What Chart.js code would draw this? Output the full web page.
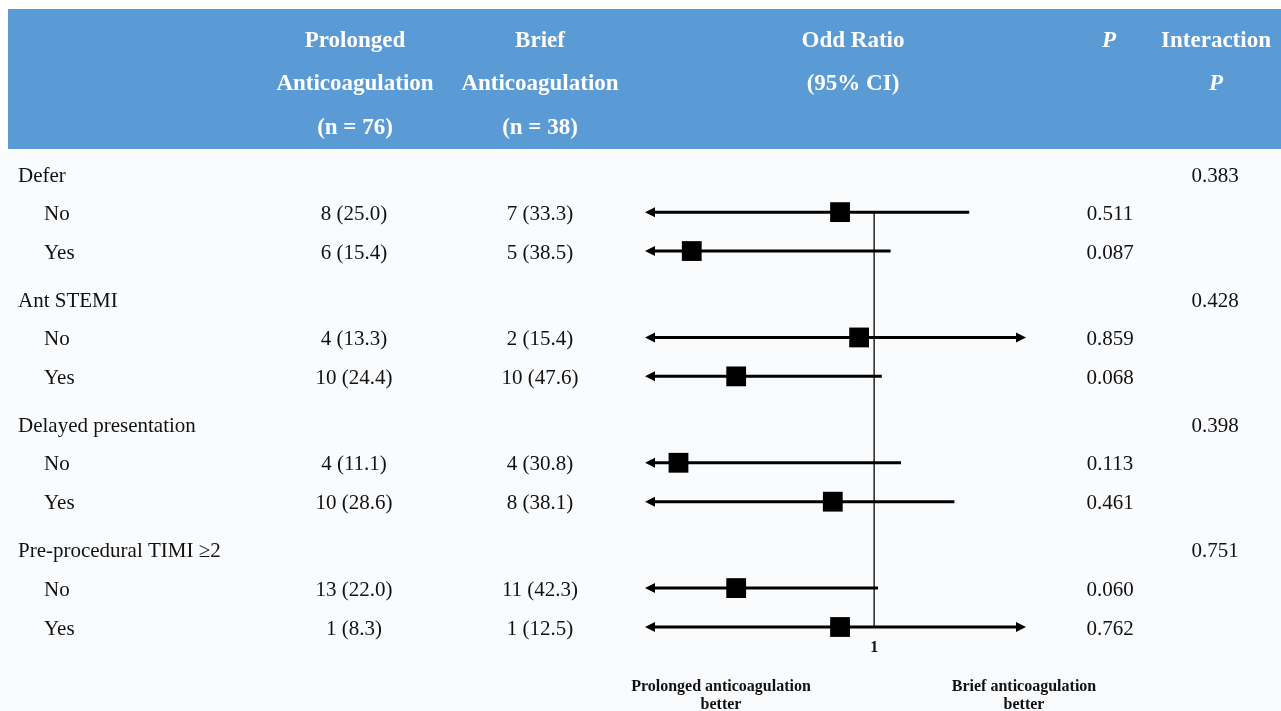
<!DOCTYPE html>
<html><head><meta charset="utf-8">
<script src="https://cdn.jsdelivr.net/npm/chart.js@4.4.1/dist/chart.umd.min.js"></script>
<style>html,body{margin:0;padding:0;background:#fff;}#wrap{width:1281px;height:711px;position:relative;}canvas{display:block;}</style>
</head><body><div id="wrap"><canvas id="c" width="1281" height="711"></canvas></div>
<script>
// ---- data ----
const groups = ['Defer', 'Ant STEMI', 'Delayed presentation', 'Pre-procedural TIMI \u22652'];
const subgroups = ['No', 'Yes'];
const nProlonged = 76;
const nBrief = 38;
const prolongedN = [8, 6, 4, 10, 4, 10, 13, 1];
const prolongedPct = [25.0, 15.4, 13.3, 24.4, 11.1, 28.6, 22.0, 8.3];
const briefN = [7, 5, 2, 10, 4, 8, 11, 1];
const briefPct = [33.3, 38.5, 15.4, 47.6, 30.8, 38.1, 42.3, 12.5];
const oddsRatio = [0.71, 0.16, 0.86, 0.25, 0.14, 0.66, 0.25, 0.71];
// lower limits all fall below the displayed axis (drawn as arrows)
const ciLower = [0.05, 0.02, 0.06, 0.04, 0.02, 0.05, 0.04, 0.05];
const ciUpper = [2.60, 1.18, 6.5, 1.08, 1.31, 2.24, 1.04, 7.0];
const pValues = [0.511, 0.087, 0.859, 0.068, 0.113, 0.461, 0.060, 0.762];
const interactionP = [0.383, 0.428, 0.398, 0.751];
const xTicks = [1];
const xMin = 0.1, xMax = 4.6;

// ---- layout ----
const SERIF = '"Liberation Serif","Times New Roman",serif';
const GROUP_STEP = 3.22, SUB_OFFSET = 0.98;
const YMAX = 3 * GROUP_STEP + SUB_OFFSET + 1;
function headerPos(g) { return g * GROUP_STEP; }
function subPos(i) { const g = Math.floor(i / 2), s = i % 2; return g * GROUP_STEP + SUB_OFFSET + s; }

const COL = { label: 18, sub: 44, pro: 354, brief: 540, or: 853, p: 1110, inter: 1215 };
const TEXT_DY = 2;

function txt(ctx, s, x, y, font, align, color) {
  ctx.font = font; ctx.textAlign = align || 'center'; ctx.textBaseline = 'middle';
  ctx.fillStyle = color || '#111'; ctx.fillText(s, x, y);
}

const forestPlugin = {
  id: 'forest',
  beforeDraw(chart) {
    const ctx = chart.ctx;
    ctx.save();
    ctx.fillStyle = '#ffffff'; ctx.fillRect(0, 0, 1281, 711);
    ctx.fillStyle = '#fafbfd'; ctx.fillRect(0, 149, 1281, 562);
    ctx.fillStyle = '#5b9bd5'; ctx.fillRect(8, 9, 1273, 140);
    const hb = 'bold 23px ' + SERIF, hi = 'italic bold 23px ' + SERIF;
    txt(ctx, 'Prolonged', COL.pro + 1, 41, hb, 'center', '#fff');
    txt(ctx, 'Anticoagulation', COL.pro + 1, 84, hb, 'center', '#fff');
    txt(ctx, '(n = ' + nProlonged + ')', COL.pro + 1, 128, hb, 'center', '#fff');
    txt(ctx, 'Brief', COL.brief, 41, hb, 'center', '#fff');
    txt(ctx, 'Anticoagulation', COL.brief, 84, hb, 'center', '#fff');
    txt(ctx, '(n = ' + nBrief + ')', COL.brief, 128, hb, 'center', '#fff');
    txt(ctx, 'Odd Ratio', COL.or, 41, hb, 'center', '#fff');
    txt(ctx, '(95% CI)', COL.or, 84, hb, 'center', '#fff');
    txt(ctx, 'P', 1109, 41, hi, 'center', '#fff');
    txt(ctx, 'Interaction', 1216, 41, hb, 'center', '#fff');
    txt(ctx, 'P', 1216, 84, hi, 'center', '#fff');
    ctx.restore();
  },
  beforeDatasetsDraw(chart) {
    const ctx = chart.ctx, xs = chart.scales.x, ys = chart.scales.y;
    ctx.save();
    // reference line at OR = 1
    const x1 = xs.getPixelForValue(1);
    ctx.strokeStyle = '#222'; ctx.lineWidth = 1.5;
    ctx.beginPath();
    ctx.moveTo(x1, ys.getPixelForValue(subPos(0)));
    ctx.lineTo(x1, ys.getPixelForValue(subPos(oddsRatio.length - 1)));
    ctx.stroke();
    // CI whiskers
    const L = xs.left, R = xs.right, head = 10, hw = 5;
    ctx.strokeStyle = '#000'; ctx.fillStyle = '#000'; ctx.lineWidth = 3;
    for (let i = 0; i < oddsRatio.length; i++) {
      const y = ys.getPixelForValue(subPos(i));
      const loClip = ciLower[i] < xMin, hiClip = ciUpper[i] > xMax;
      let a = loClip ? L : xs.getPixelForValue(ciLower[i]);
      let b = hiClip ? R : xs.getPixelForValue(ciUpper[i]);
      ctx.beginPath();
      ctx.moveTo(loClip ? a + head - 1 : a, y);
      ctx.lineTo(hiClip ? b - head + 1 : b, y);
      ctx.stroke();
      if (loClip) {
        ctx.beginPath(); ctx.moveTo(a, y); ctx.lineTo(a + head, y - hw); ctx.lineTo(a + head, y + hw); ctx.closePath(); ctx.fill();
      }
      if (hiClip) {
        ctx.beginPath(); ctx.moveTo(b, y); ctx.lineTo(b - head, y - hw); ctx.lineTo(b - head, y + hw); ctx.closePath(); ctx.fill();
      }
    }
    ctx.restore();
  },
  afterDraw(chart) {
    const ctx = chart.ctx, xs = chart.scales.x, ys = chart.scales.y;
    ctx.save();
    const bf = '21px ' + SERIF;
    groups.forEach((g, gi) => {
      const y = ys.getPixelForValue(headerPos(gi)) + TEXT_DY;
      txt(ctx, g, COL.label, y, bf, 'left');
      txt(ctx, interactionP[gi].toFixed(3), COL.inter, y, bf, 'center');
    });
    oddsRatio.forEach((v, i) => {
      const y = ys.getPixelForValue(subPos(i)) + TEXT_DY;
      txt(ctx, subgroups[i % 2], COL.sub, y, bf, 'left');
      txt(ctx, prolongedN[i] + ' (' + prolongedPct[i].toFixed(1) + ')', COL.pro, y, bf, 'center');
      txt(ctx, briefN[i] + ' (' + briefPct[i].toFixed(1) + ')', COL.brief, y, bf, 'center');
      txt(ctx, pValues[i].toFixed(3), COL.p, y, bf, 'center');
    });
    const sb = 'bold 16px ' + SERIF;
    xTicks.forEach(t => txt(ctx, String(t), xs.getPixelForValue(t), 648, sb, 'center'));
    txt(ctx, 'Prolonged anticoagulation', 721, 687, sb, 'center');
    txt(ctx, 'better', 721, 705, sb, 'center');
    txt(ctx, 'Brief anticoagulation', 1024, 687, sb, 'center');
    txt(ctx, 'better', 1024, 705, sb, 'center');
    ctx.restore();
  }
};

new Chart(document.getElementById('c'), {
  type: 'scatter',
  data: {
    datasets: [{
      data: oddsRatio.map((v, i) => ({ x: v, y: subPos(i) })),
      pointStyle: 'rect', pointRadius: 14, pointHoverRadius: 14,
      backgroundColor: '#000', borderColor: '#000', borderWidth: 0, clip: false
    }]
  },
  options: {
    responsive: false, animation: false, events: [],
    layout: { padding: { left: 645, right: 255, top: 174, bottom: 84 } },
    scales: {
      x: { type: 'logarithmic', min: xMin, max: xMax, display: false },
      y: { type: 'linear', min: 0, max: YMAX, reverse: true, display: false }
    },
    plugins: { legend: { display: false }, tooltip: { enabled: false } }
  },
  plugins: [forestPlugin]
});
</script></body></html>
